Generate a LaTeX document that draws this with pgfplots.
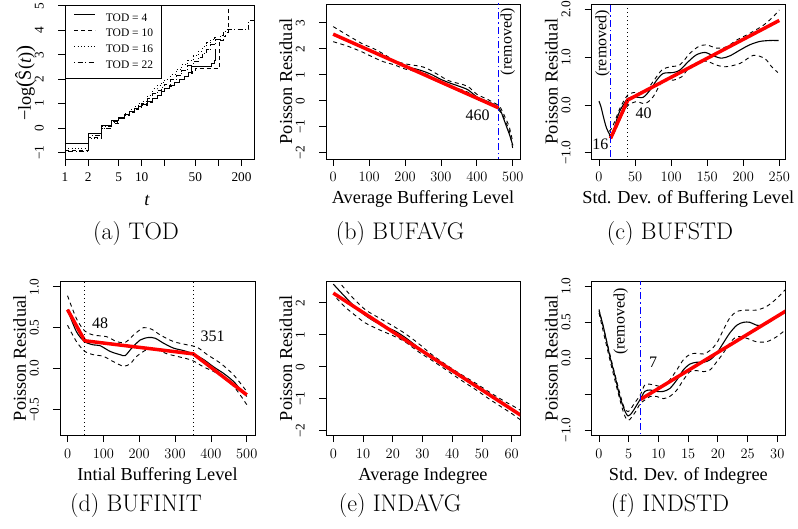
\documentclass[border=0pt]{standalone}
\usepackage{fontspec}
\usepackage{graphicx}
\usepackage{pgfplots}
\pgfplotsset{compat=1.18}
\newfontfamily\rf{Liberation Serif}
\newcommand\tickfont{\rf\fontsize{13.3}{15}\selectfont}
\newcommand\labfont{\rf\fontsize{18.3}{21}\selectfont}
\newcommand\annfont{\rf\fontsize{16}{18}\selectfont}
\newcommand\legfont{\rf\fontsize{11.5}{13}\selectfont}
\newcommand\capfont{\fontsize{24}{28}\selectfont}

\pgfplotsset{
  Rstyle/.style={
    scale only axis, anchor=south west,
    axis line style={black, line width=0.8pt},
    tick align=outside, major tick length=7pt,
    tick style={black, line width=0.8pt},
    xtick pos=left, ytick pos=left, minor tick num=0,
    xticklabel style={font=\tickfont, anchor=base, yshift=-16pt},
    yticklabel style={font=\tickfont, xshift=-14.3pt, rotate=90, anchor=base},
    every axis x label/.style={at={(axis description cs:0.5,0)}, anchor=base, yshift=-45pt, font=\labfont},
    every axis y label/.style={at={(axis description cs:0,0.5)}, xshift=-34pt, rotate=90, anchor=base, font=\labfont},
  },
  fitline/.style={red, line width=3.5pt},
  fitcurve/.style={black, line width=1.1pt, smooth},
  band/.style={black, line width=0.9pt, smooth, dash pattern=on 4pt off 3.5pt},
  cut/.style={blue, line width=1.6pt, dash pattern=on 7pt off 3pt on 1.5pt off 3pt},
  knot/.style={black, line width=1.2pt, dash pattern=on 1pt off 3pt},
}

\begin{document}
\begin{tikzpicture}[x=1pt,y=1pt]
\useasboundingbox (0,0) rectangle (798,528);

% (a) TOD
\begin{axis}[Rstyle, at={(65pt,369pt)}, width=189pt, height=154pt,
  xmode=log, log basis x=10, xmin=1, xmax=291, ymin=-1.26, ymax=5.03,
  xtick={1,2,5,10,20,50,100,200}, xticklabels={1,2,5,10,,50,,200},
  ytick={-1,0,1,2,3,4,5}, yticklabels={−1,0,1,2,3,4,5},
  xlabel={\textit{t}},
  xlabel style={xshift=-12.5pt, yshift=-2pt},
  ylabel={−log\scalebox{1.15}{(}Ŝ(\textit{t})\scalebox{1.15}{)}},
  ylabel style={xshift=-1pt},
  legend style={at={(0,1)}, anchor=north west, draw=black, line width=0.8pt, fill=white,
    font=\legfont, inner xsep=8.5pt, inner ysep=8pt, row sep=6.8pt, column sep=10pt,
    nodes={inner sep=0pt}},
  legend cell align=left,
  legend image code/.code={\draw[#1] (0pt,3.5pt) -- (21pt,3.5pt);},
]
\addplot[const plot, black, line width=1pt] coordinates {
 (1,-0.63) (2,-0.22) (3,0.12) (4,0.30) (5,0.42) (6,0.55) (7,0.68) (8,0.80) (9,0.88)
 (10,0.98) (12,1.10) (14,1.22) (16,1.35) (18,1.48) (20,1.62) (23,1.75) (27,1.88)
 (31,2.0) (36,2.12) (41,2.28) (45,2.50) (82,2.64) (88,2.75) (91,3.22) (94,3.22)};
\addlegendentry{TOD = 4}
\addplot[const plot, black, line width=1pt, dash pattern=on 4pt off 3pt] coordinates {
 (1,-0.92) (2,-0.38) (3,-0.02) (4,0.2) (5,0.38) (6,0.5) (7,0.62) (8,0.75) (9,0.85)
 (10,0.92) (12,1.05) (14,1.2) (16,1.35) (18,1.5) (20,1.6) (23,1.72) (27,1.85)
 (31,1.98) (36,2.1) (41,2.22) (46,2.35) (50,2.44) (103,3.6) (115,3.75) (125,3.9)
 (135,4.9) (137,4.9)};
\addlegendentry{TOD = 10}
\addplot[const plot, black, line width=1pt, dash pattern=on 0.8pt off 2.5pt] coordinates {
 (1,-0.85) (2,-0.42) (3,0.0) (4,0.25) (5,0.42) (6,0.6) (7,0.75) (8,0.88) (9,1.0)
 (10,1.1) (12,1.35) (14,1.6) (16,1.75) (18,1.88) (20,2.0) (24,2.2) (28,2.4) (33,2.6)
 (40,2.78) (47,2.95) (55,3.15) (62,3.32) (70,3.48) (80,3.62) (90,3.7) (95,3.7)};
\addlegendentry{TOD = 16}
\addplot[const plot, black, line width=1pt, dash pattern=on 0.8pt off 2.5pt on 5pt off 2.5pt] coordinates {
 (1,-0.97) (2,-0.3) (3,0.05) (4,0.28) (5,0.4) (6,0.55) (7,0.7) (8,0.82) (9,0.92)
 (10,1.0) (12,1.2) (14,1.4) (16,1.55) (18,1.68) (20,1.8) (24,1.98) (28,2.15) (33,2.35)
 (40,2.55) (47,2.72) (55,2.9) (62,3.05) (70,3.2) (80,3.4) (92,3.62) (105,3.8)
 (115,3.95) (128,4.02) (250,4.4) (290,4.4)};
\addlegendentry{TOD = 22}
\end{axis}
\node[anchor=base, font=\capfont] at (136,288) {(a) TOD};

% (b) BUFAVG
\begin{axis}[Rstyle, at={(326pt,369pt)}, width=194pt, height=155pt,
  xmin=-20, xmax=520, ymin=-2.24, ymax=3.72,
  xtick={0,100,200,300,400,500},
  ytick={-2,-1,0,1,2,3}, yticklabels={−2,−1,0,1,2,3},
  xlabel={Average Buffering Level}, ylabel={Poisson Residual},
]
\addplot[band] coordinates {
 (0,2.85) (40,2.52) (80,2.2) (110,2.02) (140,1.8) (170,1.55) (200,1.42) (240,1.33)
 (260,1.25) (290,1.02) (320,0.78) (350,0.66) (375,0.55) (400,0.25) (430,0.05)
 (460,-0.18) (470,-0.38) (480,-0.68) (490,-1.0) (500,-1.6)};
\addplot[band] coordinates {
 (0,2.27) (40,2.1) (80,1.88) (110,1.68) (140,1.5) (170,1.38) (200,1.22) (240,1.1)
 (260,1.02) (290,0.78) (320,0.6) (350,0.45) (375,0.33) (400,0.05) (430,-0.08)
 (460,-0.35) (470,-0.5) (480,-0.82) (490,-1.14) (500,-1.85)};
\addplot[fitcurve] coordinates {
 (0,2.56) (40,2.32) (80,2.07) (130,1.80) (165,1.55) (200,1.33) (230,1.22) (250,1.14)
 (275,1.0) (300,0.82) (325,0.68) (350,0.56) (375,0.42) (400,0.15) (425,0.0)
 (445,-0.12) (460,-0.26) (468,-0.45) (476,-0.75) (484,-1.05) (492,-1.35) (500,-1.72)};
\addplot[fitline] coordinates {(0,2.56) (460,-0.27)};
\addplot[cut] coordinates {(460,-3) (460,4)};
\node[font=\annfont] at (axis cs:402,-0.55) {460};
\node[font=\annfont, rotate=90] at (axis cs:485.7,2.27) {(removed)};
\end{axis}
\node[anchor=base, font=\capfont] at (400,288) {(b) BUFAVG};

% (c) BUFSTD
\begin{axis}[Rstyle, at={(591.7pt,369pt)}, width=193.3pt, height=155pt,
  xmin=-10.1, xmax=257.9, ymin=-1.13, ymax=2.114,
  xtick={0,50,100,150,200,250},
  ytick={-1,0,1,2}, yticklabels={−1.0,0.0,1.0,2.0},
  xlabel={Std. Dev. of Buffering Level}, ylabel={Poisson Residual},
]
\addplot[band] coordinates {
 (14,-0.55) (17.6,-0.49) (23,-0.3) (29,-0.07) (35,0.1) (40,0.21) (47.6,0.26)
 (63.8,0.28) (75,0.49) (87,0.73) (98.4,0.8) (112,0.84) (126,1.08) (137.7,1.22)
 (149,1.26) (163,1.19) (177,1.22) (191,1.36) (209,1.5) (228,1.67) (241.7,1.85) (250,1.99)};
\addplot[band] coordinates {
 (14,-0.62) (17.6,-0.68) (23,-0.52) (29,-0.31) (35,-0.12) (40.7,0.0) (52,0.07)
 (63.8,0.03) (75,0.17) (89,0.52) (103,0.52) (114.6,0.59) (126,0.8) (140,0.91)
 (151.5,0.91) (160,0.85) (175,0.8) (195.5,0.87) (214,1.04) (230,0.97) (239.4,0.8) (248,0.68)};
\addplot[fitcurve] coordinates {
 (0,0.08) (3,-0.05) (6,-0.24) (10.6,-0.49) (16,-0.63) (20,-0.55) (24.5,-0.31)
 (29,-0.12) (33.7,0.0) (40,0.14) (50,0.17) (61,0.16) (70.7,0.31) (80,0.52) (89,0.66)
 (103,0.68) (112,0.73) (124,0.91) (135,1.05) (147,1.1) (158.5,1.03) (170,0.98)
 (181.6,1.03) (195.5,1.15) (209,1.26) (223,1.33) (237,1.35) (249,1.35)};
\addplot[fitline] coordinates {(16,-0.70) (40,0.105) (250,1.77)};
\addplot[cut] coordinates {(16,-2) (16,3)};
\addplot[knot] coordinates {(40,-2) (40,3)};
\node[font=\annfont] at (axis cs:2,-0.82) {16};
\node[font=\annfont] at (axis cs:62,-0.17) {40};
\node[font=\annfont, rotate=90] at (axis cs:5,1.29) {(removed)};
\end{axis}
\node[anchor=base, font=\capfont] at (670,288) {(c) BUFSTD};

% (d) BUFINIT
\begin{axis}[Rstyle, at={(60pt,93pt)}, width=195pt, height=153.3pt,
  xmin=-21, xmax=523, ymin=-0.81, ymax=1.061,
  xtick={0,100,200,300,400,500},
  ytick={-0.5,0,0.5,1}, yticklabels={−0.5,0.0,0.5,1.0},
  xlabel={Intial Buffering Level}, ylabel={Poisson Residual},
]
\addplot[band] coordinates {
 (0,0.89) (25,0.61) (48,0.46) (72,0.41) (109,0.39) (137,0.33) (161,0.32) (184,0.41)
 (212,0.5) (235,0.48) (259,0.41) (296,0.33) (334,0.29) (362,0.26) (390,0.17)
 (427,0.065) (464,-0.08) (500,-0.28)};
\addplot[band] coordinates {
 (0,0.53) (25,0.33) (48,0.21) (72,0.17) (100,0.15) (128,0.085) (156,0.03) (175,0.06)
 (193,0.15) (221,0.23) (250,0.23) (278,0.18) (315,0.14) (348,0.1) (380,0.02)
 (418,-0.06) (464,-0.22) (500,-0.44)};
\addplot[fitcurve] coordinates {
 (0,0.72) (25,0.45) (48,0.33) (72,0.29) (91,0.28) (119,0.21) (147,0.17) (161,0.16)
 (179,0.25) (203,0.35) (226,0.38) (245,0.37) (268,0.31) (296,0.25) (324,0.22)
 (351,0.18) (380,0.11) (408,0.02) (436,-0.06) (464,-0.16) (483,-0.26) (500,-0.34)};
\addplot[fitline] coordinates {(0,0.72) (48,0.34) (351,0.18) (500,-0.32)};
\addplot[knot] coordinates {(48,-1) (48,1.2)};
\addplot[knot] coordinates {(351,-1) (351,1.2)};
\node[font=\annfont] at (axis cs:90.7,0.55) {48};
\node[font=\annfont] at (axis cs:404.7,0.39) {351};
\end{axis}
\node[anchor=base, font=\capfont] at (136,17) {(d) BUFINIT};

% (e) INDAVG
\begin{axis}[Rstyle, at={(326pt,93pt)}, width=194pt, height=153.3pt,
  xmin=-2.46, xmax=62.8, ymin=-2.13, ymax=2.656,
  xtick={0,10,20,30,40,50,60},
  ytick={-2,-1,0,1,2}, yticklabels={−2,−1,0,1,2},
  xlabel={Average Indegree}, ylabel={Poisson Residual},
]
\addplot[band] coordinates {
 (2.8,2.55) (6.2,2.19) (10.65,1.79) (15.1,1.54) (19.6,1.30) (24.1,1.04) (28.6,0.73)
 (33,0.39) (38,0.06) (43,-0.24) (48,-0.52) (53,-0.82) (58,-1.1) (60,-1.2) (63,-1.36)};
\addplot[band] coordinates {
 (1.1,2.14) (3.9,1.87) (7.3,1.61) (10.65,1.375) (15.1,1.17) (19.6,0.99) (24.1,0.78)
 (28.6,0.47) (33,0.21) (38,-0.1) (43,-0.42) (48,-0.72) (53,-1.04) (58,-1.34) (60,-1.46) (63,-1.66)};
\addplot[fitcurve] coordinates {
 (0,2.58) (3.9,2.19) (7.3,1.87) (10.65,1.61) (14,1.41) (17.4,1.25) (20.7,1.12)
 (24.1,0.92) (27.5,0.68) (30.8,0.42) (35,0.17) (40,-0.15) (45,-0.43) (50,-0.72)
 (55,-1.02) (60,-1.32) (63,-1.5)};
\addplot[fitline] coordinates {(0,2.3) (63,-1.51)};
\end{axis}
\node[anchor=base, font=\capfont] at (400,17) {(e) INDAVG};

% (f) INDSTD
\begin{axis}[Rstyle, at={(591.7pt,93pt)}, width=193.3pt, height=153.3pt,
  xmin=-1.23, xmax=31.3, ymin=-1.065, ymax=1.064,
  xtick={0,5,10,15,20,25,30},
  ytick={-1,-0.5,0,0.5,1}, yticklabels={−1.0,,0.0,0.5,1.0},
  xlabel={Std. Dev. of Indegree}, ylabel={Poisson Residual},
]
\addplot[band] coordinates {
 (0,0.68) (2,0.0) (4,-0.63) (4.9,-0.74) (6,-0.62) (7,-0.5) (7.7,-0.37) (8.6,-0.36)
 (9.7,-0.38) (10.8,-0.39) (11.9,-0.3) (13.1,-0.16) (14.2,-0.02) (15.3,0.055)
 (16.4,0.07) (17.6,0.06) (18.7,0.11) (19.8,0.21) (20.9,0.39) (22,0.56) (23.2,0.65)
 (24.8,0.67) (26.5,0.67) (28.2,0.72) (29.9,0.83) (31.3,0.95)};
\addplot[band] coordinates {
 (0,0.63) (2,-0.08) (4,-0.72) (4.9,-0.86) (6,-0.76) (7,-0.62) (7.7,-0.58) (8.6,-0.53)
 (9.7,-0.53) (10.8,-0.56) (11.9,-0.53) (13.1,-0.44) (14.2,-0.3) (15.3,-0.185)
 (16.4,-0.17) (17.6,-0.185) (18.7,-0.16) (19.8,-0.05) (20.9,0.07) (22,0.21) (23.2,0.3)
 (24.8,0.28) (26.5,0.23) (28.2,0.23) (29.9,0.3) (31.3,0.39)};
\addplot[fitcurve] coordinates {
 (0,0.66) (0.73,0.44) (1.85,0.02) (2.7,-0.25) (3.5,-0.53) (4.4,-0.74) (4.9,-0.8)
 (5.5,-0.76) (6.2,-0.67) (7,-0.56) (7.7,-0.46) (8.6,-0.44) (9.7,-0.46) (10.8,-0.46)
 (11.9,-0.42) (13.1,-0.3) (14.2,-0.16) (15.3,-0.08) (16.4,-0.055) (17.6,-0.055)
 (18.7,-0.02) (19.8,0.07) (20.9,0.21) (22,0.35) (23.2,0.46) (24.3,0.5) (25.4,0.5)
 (26.5,0.46) (27.6,0.46) (28.8,0.51) (30.2,0.6) (31.3,0.66)};
\addplot[fitline] coordinates {(7,-0.57) (31.5,0.66)};
\addplot[cut] coordinates {(7,-2) (7,2)};
\node[font=\annfont] at (axis cs:9.1,-0.056) {7};
\node[font=\annfont, rotate=90] at (axis cs:3.67,0.51) {(removed)};
\end{axis}
\node[anchor=base, font=\capfont] at (670,17) {(f) INDSTD};
\end{tikzpicture}
\end{document}
